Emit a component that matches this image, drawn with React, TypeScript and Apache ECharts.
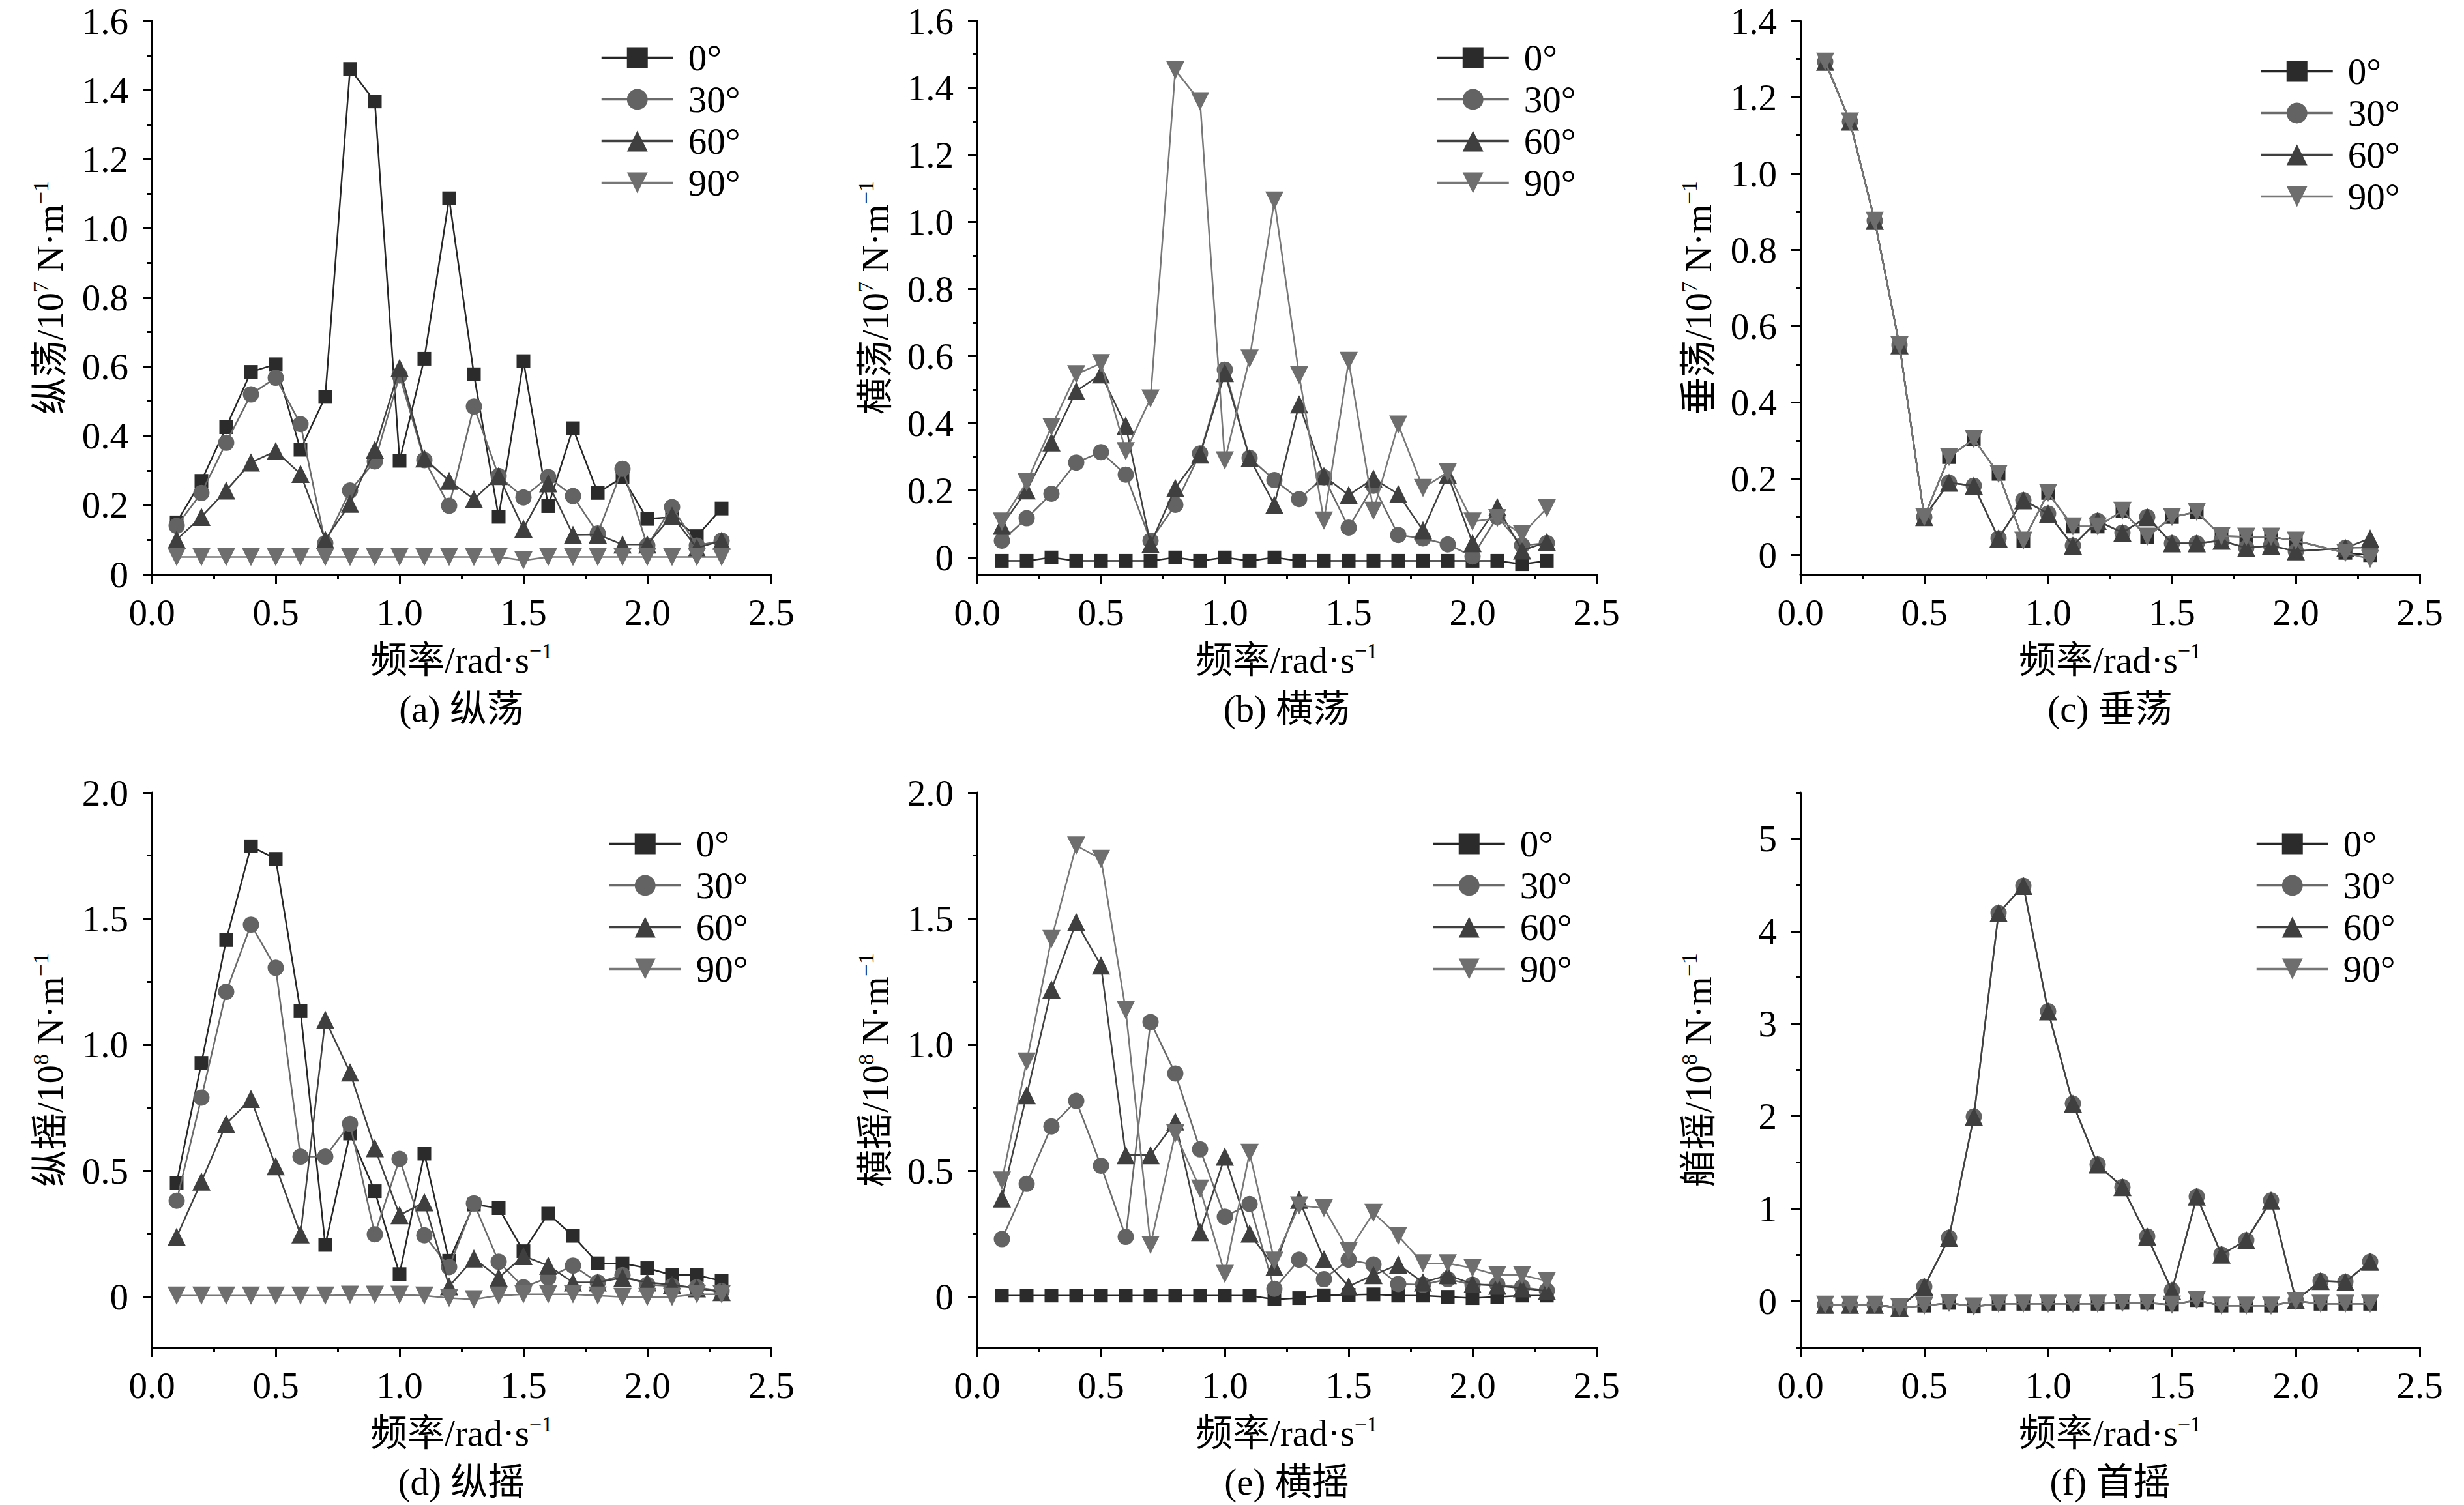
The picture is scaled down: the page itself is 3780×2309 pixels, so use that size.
import React, { useEffect, useRef } from 'react';
import * as echarts from 'echarts';

// ---------- data ----------
const freq = [0.1, 0.2, 0.3, 0.4, 0.5, 0.6, 0.7, 0.8, 0.9, 1.0, 1.1, 1.2, 1.3, 1.4, 1.5, 1.6, 1.7, 1.8, 1.9, 2.0, 2.1, 2.2, 2.3];
const angleNames = ['0°', '30°', '60°', '90°'];

// (a) 纵荡 surge, 10^7 N/m
const surge0 = [0.15, 0.27, 0.425, 0.585, 0.607, 0.36, 0.513, 1.461, 1.367, 0.328, 0.623, 1.087, 0.578, 0.166, 0.616, 0.197, 0.422, 0.235, 0.28, 0.16, 0.165, 0.11, 0.19];
const surge30 = [0.14, 0.235, 0.38, 0.52, 0.568, 0.434, 0.09, 0.242, 0.326, 0.575, 0.33, 0.198, 0.485, 0.284, 0.222, 0.281, 0.226, 0.118, 0.305, 0.083, 0.194, 0.083, 0.097];
const surge60 = [0.1, 0.166, 0.242, 0.323, 0.356, 0.29, 0.1, 0.204, 0.36, 0.596, 0.335, 0.27, 0.217, 0.284, 0.132, 0.263, 0.114, 0.115, 0.086, 0.086, 0.169, 0.076, 0.097];
const surge90 = [0.05, 0.05, 0.05, 0.05, 0.05, 0.05, 0.05, 0.05, 0.05, 0.05, 0.05, 0.05, 0.05, 0.05, 0.04, 0.05, 0.05, 0.05, 0.05, 0.05, 0.05, 0.05, 0.05];

// (b) 横荡 sway, 10^7 N/m
const sway0 = [-0.01, -0.01, 0.0, -0.01, -0.01, -0.01, -0.01, 0.0, -0.01, 0.0, -0.01, 0.0, -0.01, -0.01, -0.01, -0.01, -0.01, -0.01, -0.01, -0.01, -0.01, -0.02, -0.01];
const sway30 = [0.05, 0.117, 0.19, 0.283, 0.314, 0.247, 0.05, 0.157, 0.31, 0.56, 0.297, 0.231, 0.174, 0.239, 0.089, 0.214, 0.067, 0.057, 0.039, 0.003, 0.121, 0.036, 0.043];
const sway60 = [0.095, 0.2, 0.343, 0.496, 0.546, 0.393, 0.04, 0.207, 0.307, 0.55, 0.296, 0.157, 0.457, 0.243, 0.186, 0.235, 0.189, 0.081, 0.247, 0.043, 0.15, 0.021, 0.046];
const sway90 = [0.107, 0.224, 0.389, 0.546, 0.579, 0.317, 0.474, 1.453, 1.36, 0.289, 0.593, 1.064, 0.543, 0.11, 0.586, 0.139, 0.396, 0.207, 0.254, 0.107, 0.117, 0.069, 0.147];

// (c) 垂荡 heave, 10^7 N/m
const heave0 = [1.293, 1.136, 0.876, 0.55, 0.1, 0.257, 0.304, 0.213, 0.038, 0.163, 0.075, 0.075, 0.116, 0.048, 0.1, 0.113, 0.05, 0.048, 0.048, 0.038, null, 0.006, 0.0];
const heave30 = [1.293, 1.136, 0.876, 0.55, 0.1, 0.19, 0.182, 0.044, 0.144, 0.109, 0.025, 0.09, 0.059, 0.1, 0.031, 0.031, 0.038, 0.019, 0.025, 0.01, null, 0.019, 0.02];
const heave60 = [1.293, 1.136, 0.876, 0.55, 0.1, 0.19, 0.182, 0.044, 0.144, 0.109, 0.025, 0.09, 0.059, 0.1, 0.031, 0.031, 0.038, 0.019, 0.025, 0.01, null, 0.019, 0.044];
const heave90 = [1.293, 1.136, 0.876, 0.55, 0.1, 0.257, 0.304, 0.213, 0.038, 0.163, 0.075, 0.075, 0.116, 0.048, 0.1, 0.113, 0.05, 0.048, 0.048, 0.038, null, 0.006, -0.01];

// (d) 纵摇 pitch, 10^8 N·m
const pitch0 = [0.451, 0.928, 1.415, 1.787, 1.737, 1.133, 0.206, 0.648, 0.419, 0.09, 0.568, 0.143, 0.366, 0.352, 0.181, 0.33, 0.242, 0.133, 0.133, 0.114, 0.086, 0.086, 0.063];
const pitch30 = [0.381, 0.79, 1.21, 1.476, 1.305, 0.556, 0.556, 0.686, 0.248, 0.547, 0.244, 0.118, 0.371, 0.139, 0.038, 0.076, 0.124, 0.057, 0.086, 0.048, 0.042, 0.038, 0.023];
const pitch60 = [0.238, 0.457, 0.686, 0.785, 0.518, 0.248, 1.099, 0.89, 0.59, 0.324, 0.375, 0.042, 0.152, 0.076, 0.162, 0.124, 0.057, 0.057, 0.076, 0.057, 0.048, 0.034, 0.019];
const pitch90 = [0.005, 0.005, 0.005, 0.005, 0.005, 0.005, 0.005, 0.008, 0.008, 0.008, 0.005, -0.005, -0.01, 0.005, 0.01, 0.01, 0.01, 0.005, 0.0, 0.0, 0.0, 0.01, 0.01];

// (e) 横摇 roll, 10^8 N·m
const roll0 = [0.005, 0.005, 0.005, 0.005, 0.005, 0.005, 0.005, 0.005, 0.005, 0.005, 0.005, -0.01, -0.005, 0.006, 0.008, 0.01, 0.005, 0.005, 0.0, -0.005, 0.0, 0.005, 0.005];
const roll30 = [0.229, 0.448, 0.676, 0.777, 0.52, 0.238, 1.09, 0.886, 0.585, 0.318, 0.368, 0.032, 0.147, 0.07, 0.147, 0.128, 0.051, 0.048, 0.07, 0.048, 0.048, 0.038, 0.025];
const roll60 = [0.39, 0.8, 1.219, 1.486, 1.314, 0.562, 0.562, 0.695, 0.257, 0.556, 0.251, 0.118, 0.385, 0.149, 0.042, 0.086, 0.128, 0.057, 0.086, 0.051, 0.044, 0.034, 0.023];
const roll90 = [0.461, 0.933, 1.419, 1.79, 1.737, 1.137, 0.206, 0.648, 0.429, 0.091, 0.571, 0.143, 0.362, 0.352, 0.181, 0.333, 0.242, 0.133, 0.133, 0.114, 0.086, 0.086, 0.063];

// (f) 首摇 yaw, 10^8 N·m
const yaw0 = [-0.04, -0.04, -0.04, -0.07, -0.05, -0.02, -0.06, -0.03, -0.03, -0.03, -0.03, -0.03, -0.02, -0.02, -0.04, 0.01, -0.05, -0.05, -0.05, 0.0, -0.03, -0.03, -0.03];
const yaw30 = [-0.04, -0.04, -0.04, -0.07, 0.155, 0.684, 1.995, 4.197, 4.492, 3.135, 2.135, 1.477, 1.233, 0.699, 0.114, 1.13, 0.503, 0.658, 1.088, 0.01, 0.218, 0.207, 0.425];
const yaw60 = [-0.04, -0.04, -0.04, -0.07, 0.155, 0.684, 1.995, 4.197, 4.492, 3.135, 2.135, 1.477, 1.233, 0.699, 0.114, 1.13, 0.503, 0.658, 1.088, 0.01, 0.218, 0.207, 0.425];
const yaw90 = [-0.04, -0.04, -0.04, -0.07, -0.05, -0.02, -0.06, -0.03, -0.03, -0.03, -0.03, -0.03, -0.02, -0.02, -0.04, 0.01, -0.05, -0.05, -0.05, 0.0, -0.03, -0.03, -0.03];

// tick values
const xTicks = [0, 0.5, 1.0, 1.5, 2.0, 2.5];
const yTicks16 = [0, 0.2, 0.4, 0.6, 0.8, 1.0, 1.2, 1.4, 1.6];
const yMinor16 = [0.1, 0.3, 0.5, 0.7, 0.9, 1.1, 1.3, 1.5];
const yTicks14 = [0, 0.2, 0.4, 0.6, 0.8, 1.0, 1.2, 1.4];
const yMinor14 = [0.1, 0.3, 0.5, 0.7, 0.9, 1.1, 1.3];
const yTicks20 = [0, 0.5, 1.0, 1.5, 2.0];
const yMinor20 = [0.25, 0.75, 1.25, 1.75];
const yTicks5 = [0, 1, 2, 3, 4, 5];
const yMinor5 = [-0.5, 0.5, 1.5, 2.5, 3.5, 4.5, 5.5];

const yNames = ['纵荡', '横荡', '垂荡', '纵摇', '横摇', '艏摇'];
const yPowers = ['7', '7', '7', '8', '8', '8'];
const subTitles = ['(a) 纵荡', '(b) 横荡', '(c) 垂荡', '(d) 纵摇', '(e) 横摇', '(f) 首摇'];

// ---------- layout / style ----------
const W = 3780;
const H = 2309;
const FONT = '"Liberation Serif", "Times New Roman", "Noto Sans CJK SC", serif';
const FS = 57;

const markStyles = [
  { symbol: 'rect', size: 21, rotate: 0, color: '#2b2b2b', line: '#262626' },
  { symbol: 'circle', size: 25, rotate: 0, color: '#636363', line: '#6a6a6a' },
  { symbol: 'triangle', size: 28, rotate: 0, color: '#3f3f3f', line: '#404040' },
  { symbol: 'triangle', size: 28, rotate: 180, color: '#6e6e6e', line: '#777777' },
];

const panels = [
  { data: [surge0, surge30, surge60, surge90], min: 0, max: 1.6, ticks: yTicks16, minor: yMinor16, left: 233, top: 32, height: 849, lgLeft: 921, lgTop: 60, intLabels: false },
  { data: [sway0, sway30, sway60, sway90], min: -0.05, max: 1.6, ticks: yTicks16, minor: yMinor16, left: 1499, top: 32, height: 849, lgLeft: 2203, lgTop: 60, intLabels: false },
  { data: [heave0, heave30, heave60, heave90], min: -0.05, max: 1.4, ticks: yTicks14, minor: yMinor14, left: 2762, top: 32, height: 849, lgLeft: 3467, lgTop: 81, intLabels: false },
  { data: [pitch0, pitch30, pitch60, pitch90], min: -0.2, max: 2.0, ticks: yTicks20, minor: yMinor20, left: 233, top: 1216, height: 851, lgLeft: 933, lgTop: 1266, intLabels: false },
  { data: [roll0, roll30, roll60, roll90], min: -0.2, max: 2.0, ticks: yTicks20, minor: yMinor20, left: 1499, top: 1216, height: 851, lgLeft: 2197, lgTop: 1266, intLabels: false },
  { data: [yaw0, yaw30, yaw60, yaw90], min: -0.5, max: 5.5, ticks: yTicks5, minor: yMinor5, left: 2762, top: 1216, height: 851, lgLeft: 3460, lgTop: 1266, intLabels: true },
];
const GRID_W = 950;

const rich = {
  t: { fontSize: FS, fontFamily: FONT, color: '#000', lineHeight: 62 },
  sup: { fontSize: 34, fontFamily: FONT, color: '#000', lineHeight: 34, verticalAlign: 'top' },
};

function buildOption() {
  const grid: any[] = [];
  const xAxis: any[] = [];
  const yAxis: any[] = [];
  const series: any[] = [];
  const legend: any[] = [];
  const graphic: any[] = [];

  panels.forEach((p, i) => {
    grid.push({ left: p.left, top: p.top, width: GRID_W, height: p.height, outerBoundsMode: 'none', containLabel: false });

    xAxis.push({
      type: 'value', gridIndex: i, min: 0, max: 2.5, interval: 0.5, position: 'bottom',
      axisLine: { show: true, onZero: false, lineStyle: { color: '#000', width: 3 } },
      axisTick: { show: true, length: 15, lineStyle: { color: '#000', width: 3 } },
      minorTick: { show: true, splitNumber: 2, length: 8, lineStyle: { color: '#000', width: 3 } },
      splitLine: { show: false }, minorSplitLine: { show: false },
      axisLabel: {
        margin: 30, fontSize: FS, fontFamily: FONT, color: '#000', showMinLabel: true, showMaxLabel: true,
        customValues: xTicks,
        formatter: (v: number) => v.toFixed(1),
      },
      name: '{t|频率/rad·s}{sup|−1}', nameLocation: 'middle', nameGap: 100,
      nameTextStyle: { fontSize: FS, fontFamily: FONT, color: '#000', rich },
    });

    yAxis.push({
      type: 'value', gridIndex: i, min: p.min, max: p.max, position: 'left',
      axisLine: { show: true, onZero: false, lineStyle: { color: '#000', width: 3 } },
      axisTick: { show: true, length: 14, customValues: p.ticks, lineStyle: { color: '#000', width: 3 } },
      splitLine: { show: false },
      axisLabel: {
        margin: 36, fontSize: FS, fontFamily: FONT, color: '#000',
        customValues: p.ticks,
        formatter: (v: number) => (p.intLabels ? String(Math.round(v)) : (Math.abs(v) < 1e-9 ? '0' : v.toFixed(1))),
      },
      name: `{t|${yNames[i]}/10}{sup|${yPowers[i]}}{t| N·m}{sup|−1}`,
      nameLocation: 'middle', nameGap: 126, nameRotate: 90,
      nameTextStyle: { fontSize: FS, fontFamily: FONT, color: '#000', rich },
    });
    // overlay axis carrying the minor ticks
    yAxis.push({
      type: 'value', gridIndex: i, min: p.min, max: p.max, position: 'left', silent: true,
      axisLine: { show: false, onZero: false },
      axisTick: { show: true, length: 7, customValues: p.minor, lineStyle: { color: '#000', width: 3 } },
      axisLabel: { show: false },
      splitLine: { show: false },
    });

    p.data.forEach((vals, k) => {
      const st = markStyles[k];
      series.push({
        type: 'line', name: angleNames[k], xAxisIndex: i, yAxisIndex: i * 2,
        data: freq.map((f, j) => [f, vals[j] === null ? null : vals[j]]),
        symbol: st.symbol, symbolSize: st.size, symbolRotate: st.rotate,
        showAllSymbol: true, connectNulls: true,
        lineStyle: { color: st.line, width: 2.5 },
        itemStyle: { color: st.color, borderWidth: 0 },
        emphasis: { disabled: true },
        z: 2 + k,
      });
    });

    legend.push({
      orient: 'vertical', left: p.lgLeft, top: p.lgTop,
      itemWidth: 110, itemHeight: 40, itemGap: 7, selectedMode: false, padding: 0,
      lineStyle: { width: 3.5 },
      data: angleNames,
      textStyle: { fontSize: FS, fontFamily: FONT, color: '#000', padding: [0, 0, 0, 18] },
    });

    const bottom = p.top + p.height;
    graphic.push({
      type: 'text', x: p.left + GRID_W / 2, y: bottom + 206,
      style: { text: subTitles[i], fontSize: FS, fontFamily: FONT, fill: '#000', align: 'center', verticalAlign: 'middle' },
    });
  });

  return { animation: false, backgroundColor: '#fff', grid, xAxis, yAxis, series, legend, graphic, tooltip: { show: false } };
}

export default function App() {
  const ref = useRef<HTMLDivElement>(null);
  useEffect(() => {
    document.body.style.margin = '0';
    const chart = echarts.init(ref.current as HTMLDivElement, null, { renderer: 'svg' });
    chart.setOption(buildOption() as any);
    return () => chart.dispose();
  }, []);
  return <div ref={ref} style={{ width: W, height: H, background: '#fff' }} />;
}
